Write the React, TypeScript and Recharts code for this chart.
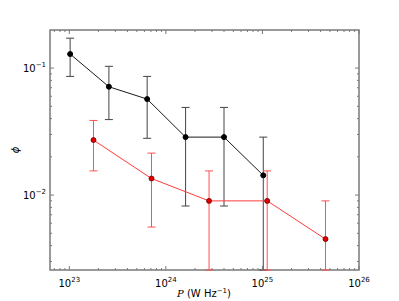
import { ErrorBar, Line, LineChart, ReferenceArea, XAxis, YAxis } from 'recharts'

// luminosity bins (W/Hz) and space densities for the two samples
const blackPower = [1.02e23, 2.57e23, 6.4e23, 1.6e24, 4.0e24, 1.02e25]
const blackPhi = [0.129, 0.0713, 0.057, 0.0286, 0.0286, 0.0143]
const blackErr = [0.043, 0.032, 0.029, 0.0204, 0.0204, 0.0143]

const redPower = [1.78e23, 7.1e23, 2.8e24, 1.12e25, 4.5e25]
const redPhi = [0.0271, 0.0135, 0.009, 0.009, 0.0045]
const redErr = [0.0116, 0.0079, 0.0065, 0.0065, 0.0045]

const xMajor = [1e23, 1e24, 1e25, 1e26]
const yMajor = [0.01, 0.1]

const X_MIN = 6.31e22
const X_MAX = 1e26
const Y_MIN = 0.00257
const Y_MAX = 0.1995

const W = 391
const H = 293
const PLOT_W = 309
const PLOT_H = 240
const FRAME = '#7a7a7a'
const FONT = 'DejaVu Sans, sans-serif'

const minorTicks = (majors: number[], lo: number, hi: number) => {
  const out: number[] = []
  for (const m of majors) {
    for (let k = 1; k < 10; k++) {
      const v = (m / 10) * k
      if (v >= lo && v <= hi) out.push(v)
    }
  }
  return out
}

const xTicks = minorTicks([...xMajor, 1e27], X_MIN, X_MAX)
const yTicks = minorTicks([...yMajor, 1], Y_MIN, Y_MAX)

const isMajor = (v: number) => Math.abs(Math.log10(v) - Math.round(Math.log10(v))) < 1e-6

// symmetric errors, lower arm stopped at the bottom of the plot
const toRows = (xs: number[], ys: number[], es: number[]) =>
  xs.map((x, i) => ({
    x,
    y: ys[i],
    err: [Math.min(es[i], ys[i] - Y_MIN), es[i]],
  }))

const blackRows = toRows(blackPower, blackPhi, blackErr)
const redRows = toRows(redPower, redPhi, redErr)

const expLabel = (v: number) => {
  const e = Math.round(Math.log10(v))
  return e < 0 ? `\u2212${-e}` : `${e}`
}

function XTick(props: any) {
  const { x, y, payload } = props
  const v = payload.value
  const major = isMajor(v)
  const len = major ? 4 : 2
  return (
    <g>
      <line x1={x} x2={x} y1={y} y2={y - len} stroke={FRAME} />
      <line x1={x} x2={x} y1={y - PLOT_H} y2={y - PLOT_H + len} stroke={FRAME} />
      {major && (
        <text x={x} y={y + 17} textAnchor='middle' fontSize={10} fontFamily={FONT} fill='#000'>
          <tspan>10</tspan>
          <tspan dy={-5} fontSize={7}>{expLabel(v)}</tspan>
        </text>
      )}
    </g>
  )
}

function YTick(props: any) {
  const { x, y, payload } = props
  const v = payload.value
  const major = isMajor(v)
  const len = major ? 4 : 2
  return (
    <g>
      <line x1={x} x2={x + len} y1={y} y2={y} stroke={FRAME} />
      <line x1={x + PLOT_W} x2={x + PLOT_W - len} y1={y} y2={y} stroke={FRAME} />
      {major && (
        <text x={x - 4} y={y + 4} textAnchor='end' fontSize={10} fontFamily={FONT} fill='#000'>
          <tspan>10</tspan>
          <tspan dy={-5} fontSize={7}>{expLabel(v)}</tspan>
        </text>
      )}
    </g>
  )
}

export default function App() {
  return (
    <div style={{ width: W, height: H, position: 'relative' }}>
      <LineChart width={W} height={H} margin={{ top: 22, right: 40, bottom: 0, left: 0 }}>
        <XAxis
          dataKey='x'
          type='number'
          scale='log'
          domain={[X_MIN, X_MAX]}
          allowDataOverflow
          ticks={xTicks}
          interval={0}
          tick={<XTick />}
          tickLine={false}
          tickSize={0}
          tickMargin={0}
          height={31}
          axisLine={false}
        />
        <YAxis
          type='number'
          scale='log'
          domain={[Y_MIN, Y_MAX]}
          allowDataOverflow
          ticks={yTicks}
          interval={0}
          tick={<YTick />}
          tickLine={false}
          tickSize={0}
          tickMargin={0}
          width={42}
          axisLine={false}
        />
        <ReferenceArea
          x1={X_MIN}
          x2={X_MAX}
          y1={Y_MIN}
          y2={Y_MAX}
          fill='none'
          fillOpacity={0}
          stroke={FRAME}
          strokeWidth={1.5}
          strokeOpacity={1}
        />
        <Line
          data={blackRows}
          dataKey='y'
          stroke='#1a1a1a'
          strokeWidth={1}
          dot={{ r: 2.5, fill: '#000', stroke: '#000', strokeWidth: 1 }}
          isAnimationActive={false}
        >
          <ErrorBar dataKey='err' direction='y' width={4} stroke='#444' strokeWidth={1} />
        </Line>
        <Line
          data={redRows}
          dataKey='y'
          stroke='#ff3b3b'
          strokeWidth={1}
          dot={{ r: 2.5, fill: '#e00000', stroke: '#700000', strokeWidth: 0.8 }}
          isAnimationActive={false}
        >
          <ErrorBar dataKey='err' direction='y' width={4} stroke='#ff5050' strokeWidth={1} />
        </Line>
        <text x={7} y={142} transform='rotate(-90 7 142)' textAnchor='middle' dominantBaseline='central' fontSize={10} fontStyle='italic' fontFamily={FONT} fill='#000'>
          ϕ
        </text>
        <text x={196} y={289} textAnchor='middle' fontSize={10} fontFamily={FONT} fill='#000'>
          <tspan fontStyle='italic' fontFamily='DejaVu Serif, serif'>P</tspan>
          <tspan> (W Hz</tspan>
          <tspan dy={-4} fontSize={7}>{'\u2212'}1</tspan>
          <tspan dy={4}>)</tspan>
        </text>
      </LineChart>
    </div>
  )
}
